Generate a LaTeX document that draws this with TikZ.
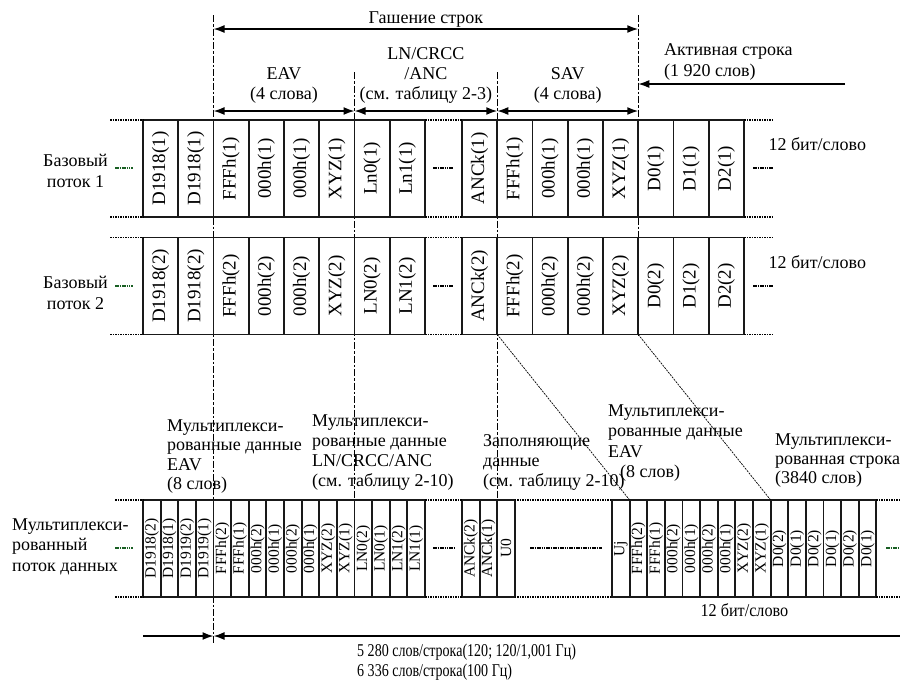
\documentclass[tikz,border=0pt]{standalone}
\usepackage{fontspec}
\setmainfont{Liberation Serif}
\newfontfamily\narrowfont[FakeStretch=0.78]{Liberation Serif}
\newfontfamily\slimfont[FakeStretch=0.9]{Liberation Serif}
\usepackage{xcolor}
\usepackage{tikz}
\usetikzlibrary{arrows.meta, positioning}

\definecolor{markgreen}{RGB}{25,95,35}

\begin{document}
\begin{tikzpicture}[x=1pt, y=-1pt,
    font=\fontsize{18}{20}\selectfont,
    word/.style={draw=black!90, line width=1.8pt, fill=white, inner sep=0pt,
      outer sep=0pt, minimum width=35.25pt, minimum height=97pt, font=\fontsize{19}{19}\selectfont},
    halfword/.style={word, minimum width=17.625pt, font=\fontsize{15.5}{15.5}\selectfont},
    rim/.style={line width=1.6pt, dash pattern=on 1.5pt off 1pt},
    gap/.style={line width=2pt, dash pattern=on 1.6pt off 0.7pt},
    divider/.style={line width=1.3pt, dash pattern=on 7pt off 2pt on 2.5pt off 2pt},
    slant/.style={line width=0.7pt, dash pattern=on 2pt off 1pt},
    spanarrow/.style={line width=1.6pt, {Latex[length=11pt,width=8pt]}-{Latex[length=11pt,width=8pt]}},
    toarrow/.style={line width=1.6pt, -{Latex[length=11pt,width=8pt]}},
    txt/.style={inner sep=0pt, align=left, anchor=north west}]

    \useasboundingbox (0,0) rectangle (900,681);

    % boundaries of EAV / LN / SAV
    \coordinate (eavL) at (213.5,15);   \coordinate (eavLb) at (213.5,643);
    \coordinate (eavR) at (354.5,72);   \coordinate (eavRb) at (354.5,597);
    \coordinate (savL) at (497.25,72);  \coordinate (savLb) at (497.25,597);
    \coordinate (savR) at (638.25,15);  \coordinate (savRb) at (638.25,335);
    \draw[divider] (eavL) -- (eavLb);
    \draw[divider] (eavR) -- (eavRb);
    \draw[divider] (savL) -- (savLb);
    \draw[divider] (savR) -- (savRb);

    % base stream 1
    \foreach \lbl [count=\i] in {D1918(1),D1918(1),FFFh(1),000h(1),000h(1),XYZ(1),Ln0(1),Ln1(1)}
      \node[word] (s1a\i) at ({143+(\i-0.5)*35.25},168.5) {\rotatebox{90}{\lbl}};
    \foreach \lbl [count=\i] in {ANCk(1),FFFh(1),000h(1),000h(1),XYZ(1),D0(1),D1(1),D2(1)}
      \node[word] (s1b\i) at ({462+(\i-0.5)*35.25},168.5) {\rotatebox{90}{\lbl}};
    % base stream 2
    \foreach \lbl [count=\i] in {D1918(2),D1918(2),FFFh(2),000h(2),000h(2),XYZ(2),LN0(2),LN1(2)}
      \node[word] (s2a\i) at ({143+(\i-0.5)*35.25},286) {\rotatebox{90}{\lbl}};
    \foreach \lbl [count=\i] in {ANCk(2),FFFh(2),000h(2),000h(2),XYZ(2),D0(2),D1(2),D2(2)}
      \node[word] (s2b\i) at ({462+(\i-0.5)*35.25},286) {\rotatebox{90}{\lbl}};
    % multiplexed stream
    \foreach \lbl [count=\i] in {D1918(2),D1918(1),D1919(2),D1919(1),FFFh(2),FFFh(1),000h(2),000h(1),
        000h(2),000h(1),XYZ(2),XYZ(1),LN0(2),LN0(1),LN1(2),LN1(1)}
      \node[halfword] (mxa\i) at ({143+(\i-0.5)*17.625},548.5) {\rotatebox{90}{\lbl}};
    \foreach \lbl [count=\i] in {ANCk(2),ANCk(1),U0}
      \node[halfword] (mxb\i) at ({462+(\i-0.5)*17.625},548.5) {\rotatebox{90}{\lbl}};
    \foreach \lbl [count=\i] in {Uj,FFFh(2),FFFh(1),000h(2),000h(1),000h(2),000h(1),XYZ(2),XYZ(1),
        D0(2),D0(1),D0(2),D0(1),D0(2),D0(1)}
      \node[halfword] (mxc\i) at ({612+(\i-0.5)*17.625},548.5) {\rotatebox{90}{\lbl}};

    % dotted edges
    \draw[rim] (110,120) -- (s1a1.north west) (s1a8.north east) -- (s1b1.north west) (s1b8.north east) -- (772,120);
    \draw[rim] (110,217) -- (s1a1.south west) (s1a8.south east) -- (s1b1.south west) (s1b8.south east) -- (772,217);
    \draw[rim] (110,237.5) -- (s2a1.north west) (s2a8.north east) -- (s2b1.north west) (s2b8.north east) -- (772,237.5);
    \draw[rim] (110,334.5) -- (s2a1.south west) (s2a8.south east) -- (s2b1.south west) (s2b8.south east) -- (772,334.5);
    \draw[rim] (115,500) -- (mxa1.north west) (mxa16.north east) -- (mxb1.north west) (mxb3.north east) -- (mxc1.north west) (mxc15.north east) -- (900,500);
    \draw[rim] (115,597) -- (mxa1.south west) (mxa16.south east) -- (mxb1.south west) (mxb3.south east) -- (mxc1.south west) (mxc15.south east) -- (900,597);

    % skipped words
    \draw[gap, markgreen] (115,168) -- (133,168);
    \draw[gap] (433,168) -- (453,168) (753,168) -- (773,168);
    \draw[gap, markgreen] (115,286) -- (133,286);
    \draw[gap] (433,286) -- (453,286) (753,286) -- (773,286);
    \draw[gap, markgreen] (115,548) -- (133,548) (886,548) -- (900,548);
    \draw[gap] (433,548) -- (454,548) (530,548) -- (602,548);

    % where the words go
    \draw[slant] (s2b1.south east) -- (mxc1.north east);
    \draw[slant] (s2b5.south east) -- (mxc9.north east);

    % arrows
    \coordinate (hb1) at (213.5,29);  \coordinate (hb2) at (638.25,29);
    \coordinate (m1) at (213.5,111);  \coordinate (m2) at (354.5,111);
    \coordinate (m3) at (497.25,111); \coordinate (m4) at (638.25,111);
    \coordinate (act) at (845,84);    \coordinate (actend) at (638.25,84);
    \coordinate (lineL) at (143,636); \coordinate (lineM) at (213.5,636);
    \coordinate (lineR) at (900,636);
    \draw[spanarrow] (hb1) -- (hb2);
    \draw[spanarrow] (m1) -- (m2);
    \draw[spanarrow] (m2) -- (m3);
    \draw[spanarrow] (m3) -- (m4);
    \draw[toarrow] (act) -- (actend);
    \draw[toarrow] (lineL) -- (lineM);
    \draw[toarrow] (lineR) -- (lineM);

    % labels
    \node[anchor=base] (blanking) at (425.9,23) {Гашение строк};
    \node[txt, align=center, anchor=north] (eav) at (284,67) {EAV\\(4 слова)};
    \node[txt, align=center, anchor=north] (anc) at (425.9,47.5) {LN/CRCC\\/ANC\\(см. таблицу 2-3)};
    \node[txt, align=center, anchor=north] (sav) at (567.75,67) {SAV\\(4 слова)};
    \node[txt, font=\fontsize{18}{21}\selectfont] (active) at (664,43) {Активная строка\\(1 920 слов)};
    \node[anchor=base west] (bits1) at (765,150) {12 бит/слово};
    \node[anchor=base west] (bits2) at (765,268) {12 бит/слово};
    \node[txt, align=center, anchor=north east, font=\fontsize{18}{21}\selectfont] (base1) at (108,154) {Базовый\\поток 1};
    \node[txt, align=center, anchor=north east, font=\fontsize{18}{21}\selectfont] (base2) at (108,276) {Базовый\\поток 2};
    \node[txt, font=\fontsize{18}{20.5}\selectfont] (muxname) at (12,518.5) {Мультиплекси-\\рованный\\поток данных};
    \node[txt, font=\fontsize{18}{19.5}\selectfont] (muxeav) at (167,419.5) {Мультиплекси-\\рованные данные\\EAV\\(8 слов)};
    \node[txt] (muxanc) at (312,414.5) {Мультиплекси-\\рованные данные\\LN/CRCC/ANC\\(см. таблицу 2-10)};
    \node[txt] (fill) at (483,434.5) {Заполняющие\\данные\\(см. таблицу 2-10)};
    \node[txt, font=\fontsize{18}{20.3}\selectfont] (muxeav2) at (608,404.5) {Мультиплекси-\\рованные данные\\EAV\\\hspace*{12pt}(8 слов)};
    \node[txt, font=\fontsize{18}{19}\selectfont] (muxline) at (775,433.5) {Мультиплекси-\\рованная строка\\(3840 слов)};
    \node[anchor=base west, font=\slimfont\fontsize{18}{20}\selectfont] (bits3) at (697,616) {12 бит/слово};
    \node[txt, font=\narrowfont\fontsize{18}{20}\selectfont] (rate) at (357,643.5) {5 280 слов/строка(120; 120/1,001 Гц)\\6 336 слов/строка(100 Гц)};

\end{tikzpicture}
\end{document}
